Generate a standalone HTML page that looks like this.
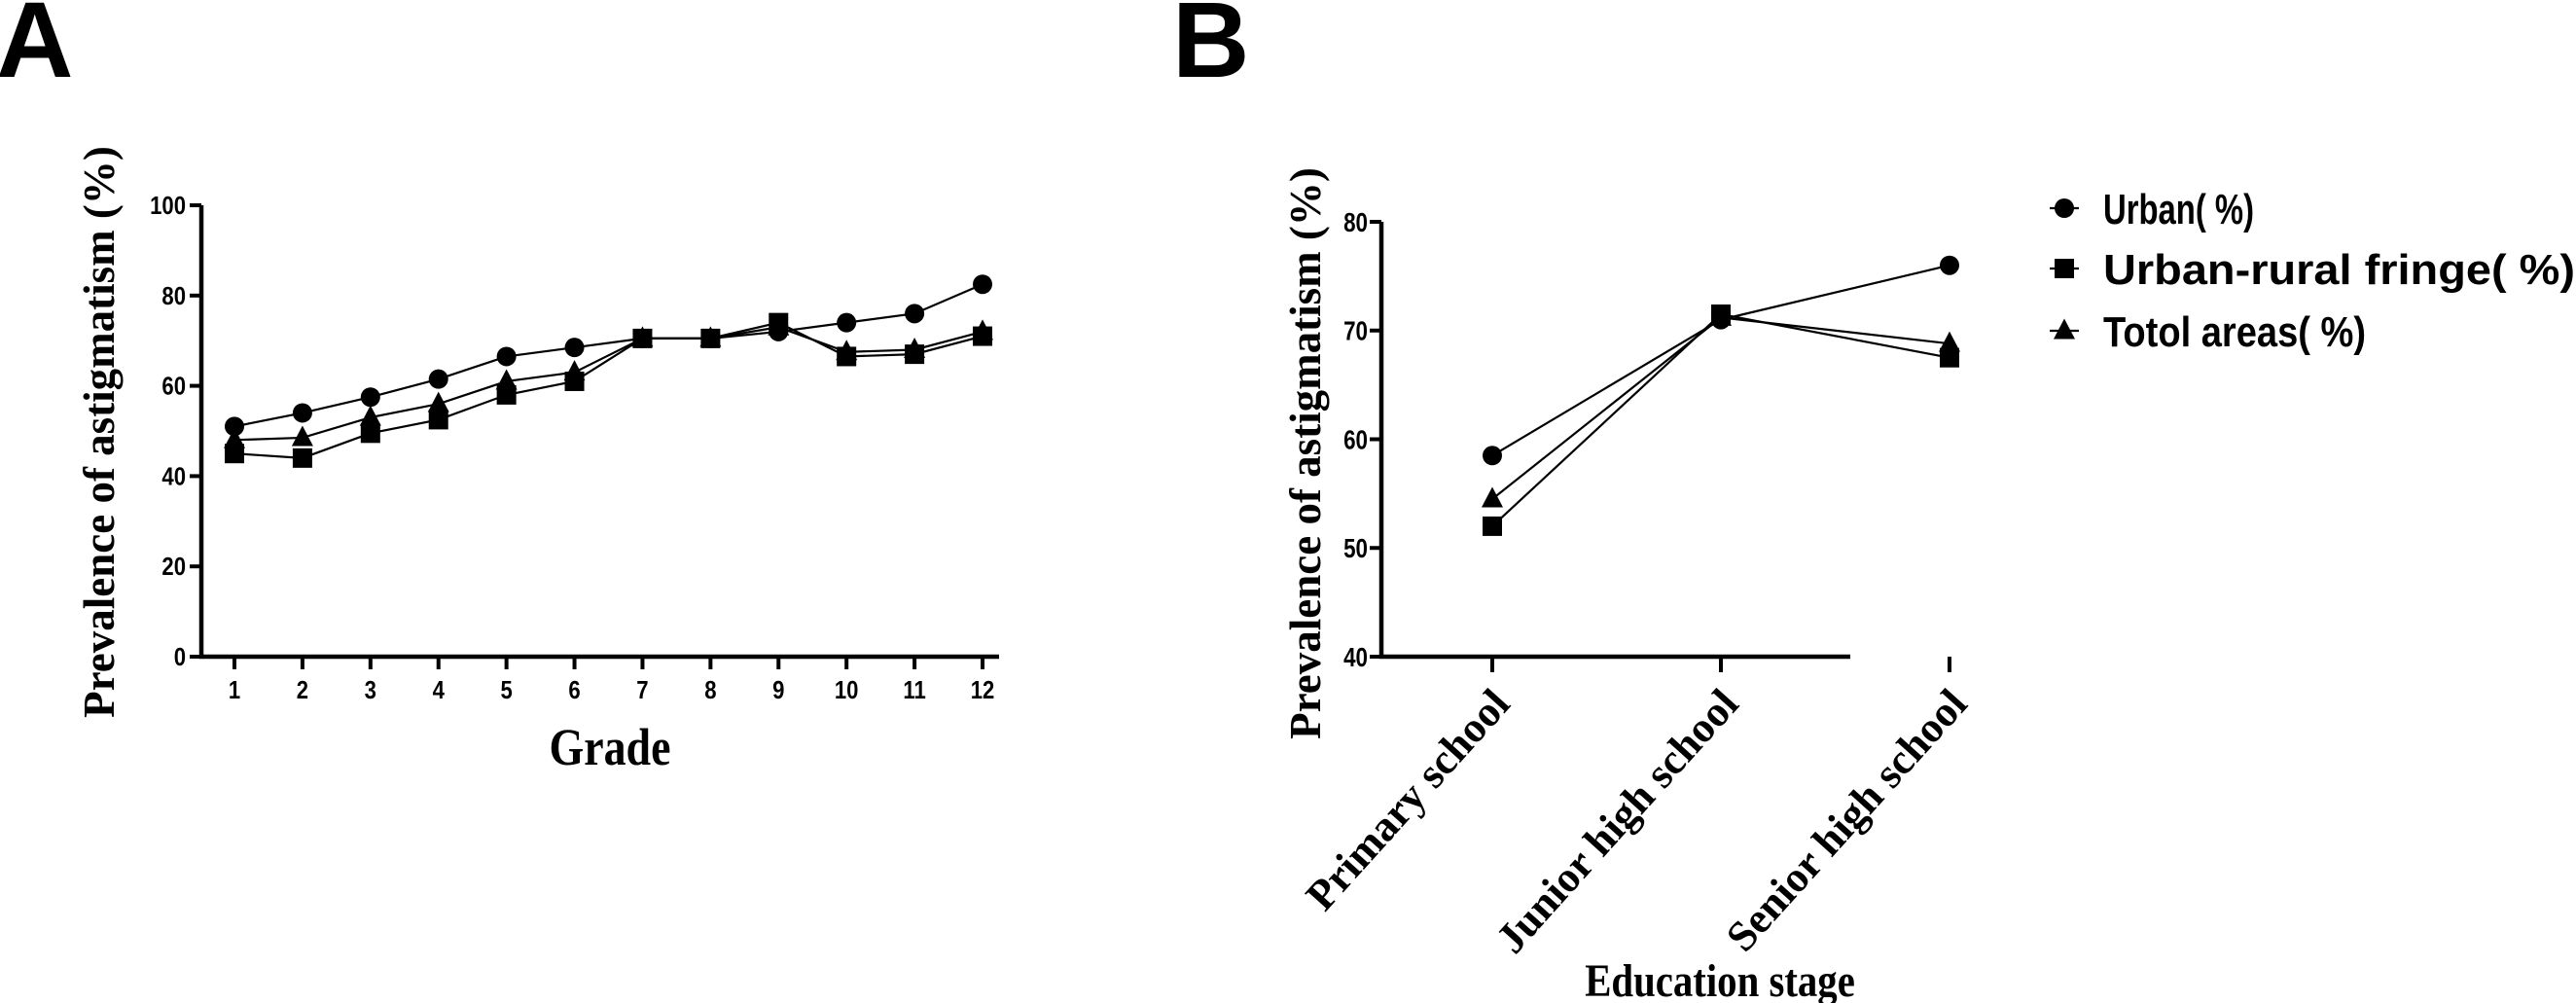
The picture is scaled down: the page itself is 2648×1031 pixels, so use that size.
<!DOCTYPE html>
<html><head><meta charset="utf-8"><style>
html,body{margin:0;padding:0;background:#fff;}
svg{display:block;}
.tk{font-family:"Liberation Sans",sans-serif;font-weight:bold;}
.ttl{font-family:"Liberation Serif",serif;font-weight:bold;}
</style></head><body>
<svg id="chart" width="2648" height="1031" viewBox="0 0 2648 1031" xmlns="http://www.w3.org/2000/svg">
<text x="-4" y="79" font-family="Liberation Sans,sans-serif" font-weight="bold" font-size="110">A</text>
<text x="1205" y="79" font-family="Liberation Sans,sans-serif" font-weight="bold" font-size="110">B</text>
<g id="ga"></g>
<g id="gb"></g>
</svg>
<script>
const gradeCats=["1","2","3","4","5","6","7","8","9","10","11","12"];
const gradeUrban=[51,54,57.5,61.5,66.5,68.5,70.5,70.5,72,74,76,82.5];
const gradeFringe=[45,44,49.5,52.5,58,61,70.5,70.5,74,66.5,67,71];
const gradeTotal=[48,48.5,53,56,61,63,70.5,70.5,73,67.5,68,72];
const gradeTicks=[0,20,40,60,80,100];
const stageCats=["Primary school","Junior high school","Senior high school"];
const stageUrban=[58.5,71,76];
const stageFringe=[52,71.5,67.5];
const stageTotal=[54.5,71.2,68.8];
const stageTicks=[40,50,60,70,80];
const legendLabels=["Urban( %)","Urban-rural fringe( %)","Totol areas( %)"];

const NS="http://www.w3.org/2000/svg";
function mk(p,tag,at,txt){const e=document.createElementNS(NS,tag);for(const k in at)e.setAttribute(k,at[k]);if(txt!==undefined)e.textContent=txt;p.appendChild(e);return e;}
function marker(g,kind,x,y,s){
  let e;
  if(kind==="circle")e=mk(g,"circle",{cx:x,cy:y,r:s,fill:"#000"});
  else if(kind==="square")e=mk(g,"rect",{x:x-s,y:y-s,width:2*s,height:2*s,fill:"#000"});
  else e=mk(g,"polygon",{points:`${x},${y-s*1.25} ${x-s*1.1},${y+s*0.85} ${x+s*1.1},${y+s*0.85}`,fill:"#000"});
  
  
}
function drawSeries(g,vals,xf,yf,kind,s,name){
  const sg=mk(g,"g",{});
  
  
  const pl=mk(sg,"polyline",{points:vals.map((v,i)=>xf(i)+","+yf(v)).join(" "),fill:"none",stroke:"#000","stroke-width":2.2});
  
  
  vals.forEach((v,i)=>marker(sg,kind,xf(i),yf(v),s));
}

// Panel A
(function(){
  const g=document.getElementById("ga");
  const X0=207,Y0=675,Ytop=211,Xend=1027;
  const yf=v=>Y0-(v-0)/100*(Y0-Ytop);
  const xf=i=>241+i*(1010-241)/11;
  const ax=mk(g,"path",{d:`M${X0},${Ytop} V${Y0} H${Xend}`,stroke:"#000","stroke-width":4.5,fill:"none"});
  
  gradeTicks.forEach(t=>{mk(g,"line",{x1:X0-12,x2:X0,y1:yf(t),y2:yf(t),stroke:"#000","stroke-width":4});
    const tl=mk(g,"text",{x:(X0-16)/0.85,y:yf(t)+9,"text-anchor":"end",class:"tk","font-size":26,transform:"scale(0.85,1)"},t);
    });
  gradeCats.forEach((c,i)=>{mk(g,"line",{x1:xf(i),x2:xf(i),y1:Y0,y2:Y0+13,stroke:"#000","stroke-width":4});
    const tl=mk(g,"text",{x:xf(i)/0.85,y:718,"text-anchor":"middle",class:"tk","font-size":26,transform:"scale(0.85,1)"},c);
    });
  drawSeries(g,gradeUrban,xf,yf,"circle",10,"series-urban");
  drawSeries(g,gradeTotal,xf,yf,"triangle",10,"series-total");
  drawSeries(g,gradeFringe,xf,yf,"square",10,"series-fringe");
  const yt=mk(g,"text",{x:0,y:0,"text-anchor":"middle",class:"ttl","font-size":45,transform:"translate(117,444) rotate(-90)"},"Prevalence of astigmatism (%)");
  
  const xt=mk(g,"text",{x:627/0.85,y:786,"text-anchor":"middle",class:"ttl","font-size":54,transform:"scale(0.85,1)"},"Grade");
  
})();

// Panel B
(function(){
  const g=document.getElementById("gb");
  const X0=1420,Y0=675,Ytop=228,Xend=1902;
  const yf=v=>Y0-(v-40)/40*(Y0-Ytop);
  const xf=i=>1534+i*235;
  const ax=mk(g,"path",{d:`M${X0},${Ytop} V${Y0} H${Xend}`,stroke:"#000","stroke-width":4.5,fill:"none"});
  
  stageTicks.forEach(t=>{mk(g,"line",{x1:X0-12,x2:X0,y1:yf(t),y2:yf(t),stroke:"#000","stroke-width":4});
    const tl=mk(g,"text",{x:(X0-14)/0.8,y:yf(t)+10,"text-anchor":"end",class:"tk","font-size":28,transform:"scale(0.8,1)"},t);
    });
  stageCats.forEach((c,i)=>{mk(g,"line",{x1:xf(i),x2:xf(i),y1:Y0,y2:Y0+16,stroke:"#000","stroke-width":4});
    const tl=mk(g,"text",{x:0,y:0,"text-anchor":"end",class:"ttl","font-size":44,transform:`translate(${xf(i)+20},${Y0+50}) rotate(-48)`},c);
    });
  drawSeries(g,stageUrban,xf,yf,"circle",10,"series-urban");
  drawSeries(g,stageTotal,xf,yf,"triangle",10,"series-total");
  drawSeries(g,stageFringe,xf,yf,"square",10,"series-fringe");
  const yt=mk(g,"text",{x:0,y:0,"text-anchor":"middle",class:"ttl","font-size":45,transform:"translate(1357,466) rotate(-90)"},"Prevalence of astigmatism (%)");
  
  const xt=mk(g,"text",{x:1768/0.85,y:1024,"text-anchor":"middle",class:"ttl","font-size":48,transform:"scale(0.85,1)"},"Education stage");
  
  const kinds=["circle","square","triangle"];const ly=[214,276,340];const lw=[155,485,270];
  legendLabels.forEach((l,i)=>{
    const lg=mk(g,"g",{});
    
    
    mk(lg,"line",{x1:2107,x2:2137,y1:ly[i],y2:ly[i],stroke:"#000","stroke-width":2.2});
    marker(lg,kinds[i],2122,ly[i],10);
    mk(lg,"text",{x:2162,y:ly[i]+16,class:"tk","font-size":44,textLength:lw[i],lengthAdjust:"spacingAndGlyphs"},l);
  });
})();
</script>
</body></html>
